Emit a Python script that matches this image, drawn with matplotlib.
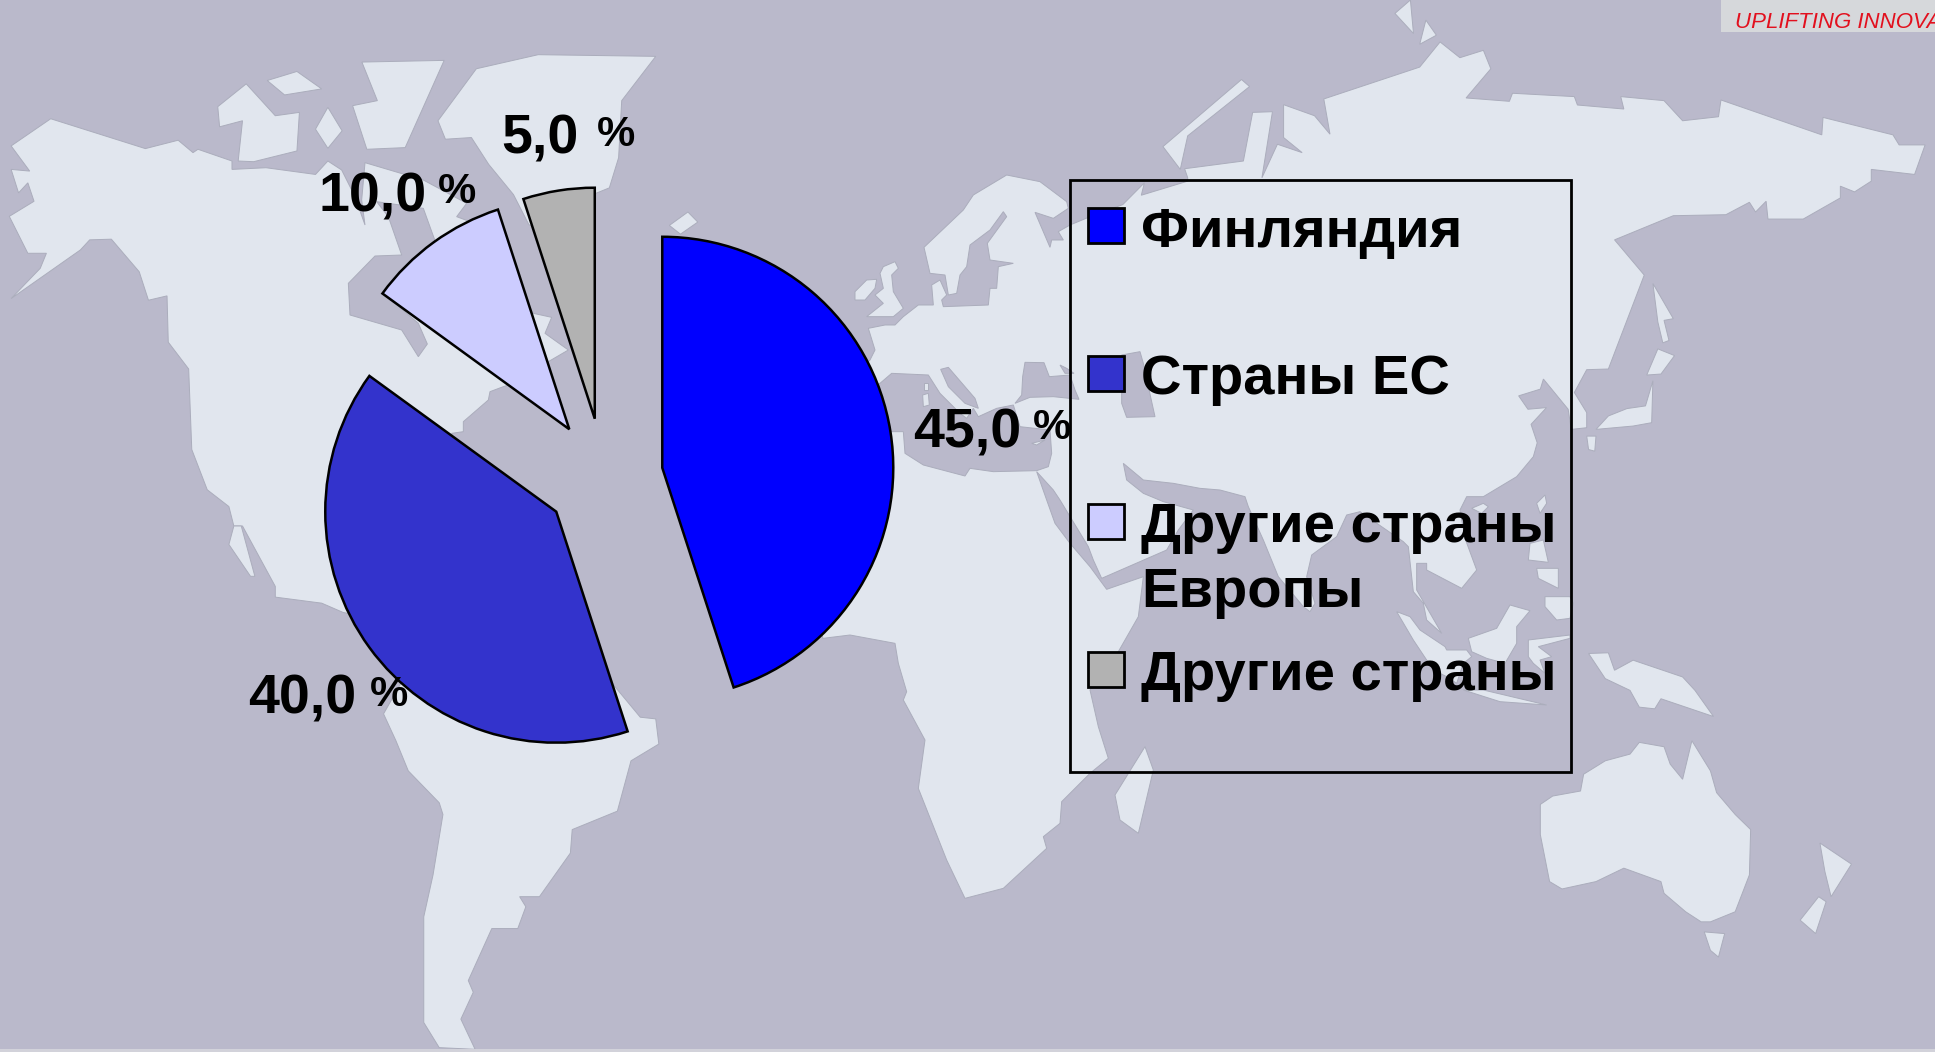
import matplotlib
matplotlib.use("Agg")
import matplotlib.pyplot as plt
from matplotlib.patches import Polygon, Rectangle

# --- chart data ---
categories = ["Финляндия", "Страны ЕС", "Другие страны\nЕвропы", "Другие страны"]
shares = [45.0, 40.0, 10.0, 5.0]
colors = ["#0000FF", "#3333CC", "#CCCCFF", "#B2B2B2"]
banner_text = "UPLIFTING INNOVATIONS"

SEA = "#BAB9CB"
LAND = "#E1E6EE"
COAST = "#ABADBC"


def t(col, row, pts):
    return [(965 * col + x / 1.6165, 526 * row + y / 2.981) for x, y in pts]


def c(ox, oy, pts):
    return [(ox + x / 3, oy + y / 3) for x, y in pts]


c9 = lambda pts: c(300, 120, pts)
c6 = lambda pts: c(850, 160, pts)
c7 = lambda pts: c(850, 500, pts)
c8 = lambda pts: c(1200, 400, pts)

americas = (
    t(0, 0, [(82, 354), (235, 443), (288, 418), (312, 455), (320, 445), (375, 480), (375, 505), (430, 500), (510, 520), (530, 480)])
    + c9([(125, 150), (165, 230), (195, 315), (185, 240), (195, 128), (370, 180), (500, 250), (470, 290), (510, 305), (600, 450),
          (700, 580), (755, 592), (735, 640), (805, 690), (745, 725), (700, 770), (610, 800), (570, 815), (565, 840), (490, 905), (490, 935), (455, 940)])
    + t(0, 1, [(850, 300), (990, 470), (1035, 570), (1060, 575), (1065, 650), (1020, 700), (998, 850), (925, 905), (922, 975), (872, 1105), (840, 1105),
               (850, 1135), (837, 1200), (795, 1200), (757, 1355), (765, 1390), (745, 1470), (768, 1560), (710, 1555), (685, 1480), (685, 1165),
               (700, 1040), (716, 860), (710, 825), (660, 730), (640, 640), (620, 560), (700, 300), (555, 258), (520, 230), (445, 212), (445, 180), (392, 0)])
    + t(0, 0, [(378, 1568), (370, 1510), (335, 1460), (310, 1340), (305, 1100), (272, 1020), (270, 882), (240, 895), (225, 810), (180, 713), (145, 715),
               (130, 745), (18, 890), (65, 800), (75, 755), (45, 755), (15, 645), (55, 600), (45, 545), (30, 575), (18, 505), (48, 510), (18, 435)])
)
baja = t(0, 1, [(378, 0), (390, 0), (412, 150), (405, 150), (370, 55)])
hudson = c9([(230, 245), (370, 265), (405, 362), (250, 520), (355, 610), (382, 672), (355, 710), (305, 630), (150, 585), (145, 490), (225, 408), (305, 405), (265, 290)])
greenland = t(0, 0, [(870, 163), (1060, 168), (1005, 300), (1000, 470), (985, 560), (945, 590), (905, 700), (855, 670), (830, 580), (790, 490), (762, 410), (720, 415), (708, 360), (770, 205)])
arctic = [
    t(0, 0, [(398, 250), (352, 318), (355, 378), (392, 360), (385, 480), (410, 482), (480, 450), (484, 335), (445, 345)]),
    t(0, 0, [(432, 240), (480, 213), (520, 265), (460, 283)]),
    t(0, 0, [(530, 320), (553, 390), (530, 442), (510, 385)]),
    t(0, 0, [(585, 185), (718, 180), (655, 440), (593, 445), (570, 315), (610, 300)]),
    t(0, 0, [(1112, 632), (1128, 662), (1100, 698), (1082, 672)]),
    t(1, 0, [(447, 237), (460, 258), (360, 405), (348, 505), (320, 437)]),
    t(1, 0, [(720, 0), (725, 100), (695, 40)]),
    t(1, 0, [(745, 60), (762, 105), (735, 132)]),
]
eurafrasia = (
    c6([(55, 505), (105, 495), (135, 495), (160, 470), (205, 435), (250, 435), (245, 375), (270, 360), (290, 405), (275, 420), (280, 440), (415, 435),
        (420, 385), (440, 385), (445, 320), (490, 310), (420, 300), (412, 250), (470, 170), (460, 155), (420, 210), (360, 255), (350, 320), (330, 345),
        (320, 400), (295, 405), (285, 345), (240, 340), (222, 262), (340, 150), (370, 105), (470, 45), (570, 65), (650, 125), (655, 145), (610, 175),
        (555, 157), (600, 262), (605, 240), (640, 240), (625, 215), (660, 195)])
    + t(1, 0, [(210, 640), (255, 610), (290, 545), (285, 582), (360, 540), (360, 530), (355, 503), (450, 480), (465, 335), (497, 333), (480, 530), (505, 430),
               (545, 455), (515, 410), (515, 312), (565, 345), (590, 400), (580, 295), (735, 200), (768, 125), (800, 172), (838, 150), (850, 205), (810, 292),
               (880, 302), (885, 278), (985, 288), (990, 313), (1065, 325), (1060, 288), (1130, 300), (1160, 360), (1218, 348), (1222, 298), (1385, 402),
               (1387, 350), (1500, 402), (1510, 432), (1552, 432), (1535, 520), (1465, 505), (1465, 540), (1438, 572), (1415, 555), (1415, 590), (1355, 653),
               (1298, 653), (1295, 600), (1278, 632), (1268, 603), (1230, 640), (1145, 643), (1050, 715), (1098, 820), (1040, 1100), (1005, 1102), (985, 1170),
               (1005, 1230), (1005, 1275), (980, 1280), (975, 1220), (935, 1130), (930, 1160), (895, 1180), (910, 1220), (940, 1215), (915, 1265), (925, 1320)])
    + c8([(1000, 170), (950, 230), (850, 290), (800, 290), (780, 330), (795, 415), (830, 510), (785, 565), (680, 510), (680, 490), (650, 490), (650, 570),
          (725, 700), (680, 660), (670, 610), (640, 575), (625, 440), (610, 425), (480, 335), (440, 345), (410, 410), (335, 465), (320, 530), (345, 610),
          (330, 635), (310, 620), (235, 530), (190, 420), (145, 320), (135, 290), (60, 270), (0, 265)])
    + c6([(970, 970), (880, 960), (820, 910), (830, 960), (880, 1000), (940, 1025), (1030, 1050), (985, 1110), (950, 1170), (755, 1255), (730, 1200), (715, 1160),
          (630, 1020), (610, 990), (560, 935), (590, 1020)])
    + c7([(615, 70), (660, 130), (720, 200), (770, 268), (880, 230), (865, 350), (805, 455), (720, 570), (745, 680), (775, 775), (720, 820), (635, 905), (630, 970),
          (580, 1010), (590, 1045), (460, 1165), (345, 1195), (290, 1080), (205, 865), (225, 720), (160, 600), (170, 575), (145, 490), (135, 430), (0, 405)])
    + t(0, 1, [(1330, 335)])
    + [(800, 450), (860, 370)]
    + c6([(60, 600), (75, 570)])
)
inner_seas = [
    c6([(90, 670), (125, 640), (235, 645), (270, 700), (330, 760), (350, 775), (370, 745), (385, 770), (440, 745), (490, 735), (510, 800), (600, 810), (605, 880),
        (595, 920), (560, 932), (430, 935), (360, 925), (345, 948), (220, 915), (165, 880), (160, 815), (60, 815), (30, 700)]),
    c6([(272, 628), (295, 622), (375, 715), (385, 745), (345, 730), (295, 680)]),
    c6([(525, 607), (582, 608), (598, 650), (660, 645), (675, 690), (687, 718), (610, 710), (540, 712), (495, 730), (515, 705), (518, 650)]),
    c6([(630, 615), (650, 625), (672, 640), (645, 640)]),
    c6([(815, 585), (870, 575), (880, 610), (895, 680), (915, 770), (830, 772), (815, 730)]),
]
islands = [
    c6([(100, 320), (135, 305), (145, 325), (125, 345), (130, 395), (160, 445), (130, 470), (50, 470), (100, 430), (75, 405), (100, 385), (90, 340)]),
    c6([(15, 395), (50, 360), (80, 358), (75, 385), (45, 420), (15, 420)]),
    c6([(222, 670), (235, 670), (235, 690), (222, 690)]),
    c6([(218, 705), (235, 700), (238, 735), (220, 740)]),
    c6([(545, 850), (585, 840), (560, 855)]),
    c7([(885, 740), (910, 810), (865, 1000), (810, 960), (795, 885)]),
    t(1, 0, [(1112, 845), (1145, 950), (1130, 955), (1138, 1015), (1128, 1022), (1120, 960)]),
    t(1, 0, [(1120, 1040), (1147, 1060), (1125, 1115), (1102, 1118)]),
    t(1, 0, [(1112, 1135), (1110, 1260), (1080, 1270), (1020, 1280), (1040, 1240), (1070, 1218), (1100, 1210)]),
    t(1, 0, [(1005, 1300), (1020, 1300), (1018, 1345), (1008, 1340)]),
    c8([(1035, 285), (1040, 310), (1020, 340), (1010, 310)]),
    c8([(815, 325), (850, 310), (865, 320), (845, 340)]),
    c8([(990, 430), (1030, 420), (1045, 487), (985, 480)]),
    c8([(1010, 505), (1075, 505), (1075, 565), (1015, 535)]),
    c8([(1035, 590), (1110, 590), (1120, 610), (1110, 655), (1070, 660), (1035, 620)]),
    c8([(590, 635), (630, 650), (660, 690), (735, 740), (740, 750), (800, 750), (815, 770), (790, 790), (770, 850), (740, 830), (700, 810), (640, 720)]),
    c8([(930, 615), (990, 632), (950, 680), (950, 730), (915, 790), (860, 775), (815, 755), (805, 715), (890, 685)]),
    c8([(985, 720), (1110, 705), (1110, 715), (1015, 740), (1055, 770), (1020, 780), (1035, 820), (1000, 790), (985, 770)]),
    c8([(790, 870), (850, 870), (1040, 915), (900, 905)]),
    t(1, 1, [(1008, 380), (1040, 378), (1050, 430), (1080, 400), (1160, 450), (1180, 490), (1210, 568), (1125, 515), (1115, 545), (1090, 540), (1075, 490), (1035, 455)]),
    t(1, 1, [(1090, 645), (1130, 658), (1140, 710), (1160, 755), (1175, 640), (1205, 730), (1215, 795), (1245, 860), (1270, 905), (1268, 1040), (1245, 1150), (1205, 1180),
             (1190, 1180), (1165, 1150), (1130, 1095), (1125, 1060), (1065, 1020), (1020, 1060), (965, 1082), (945, 1060), (930, 920), (930, 830), (950, 805), (995, 790),
             (1000, 740), (1035, 700), (1075, 680)]),
    t(1, 1, [(1195, 1210), (1228, 1215), (1218, 1285), (1205, 1265)]),
    t(1, 1, [(1382, 945), (1433, 1008), (1400, 1105), (1390, 1030)]),
    t(1, 1, [(1380, 1105), (1392, 1120), (1375, 1215), (1350, 1175)]),
]

plt.rcParams["font.family"] = ["Liberation Sans", "DejaVu Sans"]

fig = plt.figure(figsize=(19.35, 10.52), dpi=100, facecolor=SEA)
ax = fig.add_axes([0, 0, 1, 1])
ax.set_facecolor(SEA)


def draw_area(pts, fill, z=1):
    ax.add_patch(Polygon(pts, closed=True, facecolor=fill, edgecolor=COAST, linewidth=0.7, zorder=z))


for land in [americas, baja, greenland, eurafrasia] + arctic:
    draw_area(land, LAND, 1)
draw_area(hudson, SEA, 2)
for sea in inner_seas:
    draw_area(sea, SEA, 2)
for island in islands:
    draw_area(island, LAND, 3)

# y axis runs downward, so the pie starts at -90 and goes counterclock to look clockwise
wedges, _ = ax.pie(shares, colors=colors, startangle=-90, counterclock=True, radius=231, center=(604, 477),
                   explode=[59] * len(shares), frame=True,
                   wedgeprops={"edgecolor": "black", "linewidth": 1.8})
for w in wedges:
    w.set_zorder(5)

ax.set_xlim(0, 1935)
ax.set_ylim(1052, 0)
ax.set_aspect("auto")
ax.axis("off")

# value labels, the % sign is smaller and sits against the top of the digits
label_x = [913, 248, 318, 501]
label_y = [447, 714, 211, 154]
pct_x = [1033, 370, 438, 597]
for v, x, y, px in zip(shares, label_x, label_y, pct_x):
    ax.text(x, y, f"{v:.1f}".replace(".", ","), fontsize=40, fontweight="bold", color="black", va="baseline", ha="left", zorder=7)
    ax.text(px, y - 8, "%", fontsize=31, fontweight="bold", color="black", va="baseline", ha="left", zorder=7)

# legend box
ax.add_patch(Rectangle((1070, 180), 501, 592, facecolor="none", edgecolor="black", linewidth=2, zorder=6))
swatch_y = [208, 356, 504, 652]
text_y = [247, 394, 542, 690]
for name, col, sy, ty in zip(categories, colors, swatch_y, text_y):
    ax.add_patch(Rectangle((1088, sy), 36, 35, facecolor=col, edgecolor="black", linewidth=2, zorder=6))
    parts = name.split("\n")
    ax.text(1141, ty, parts[0], fontsize=40.4, fontweight="bold", va="baseline", ha="left", zorder=7)
    if len(parts) > 1:
        ax.text(1141, 607, parts[1], fontsize=40.4, fontweight="bold", va="baseline", ha="left", zorder=7)

# banner in the corner, cut by the page edge
ax.add_patch(Rectangle((1721, 0), 214, 32, facecolor="#D6D8DB", edgecolor="none", zorder=6))
ax.text(1735, 28, banner_text, fontsize=16, style="italic", color="#E2101E", va="baseline", ha="left", zorder=7)

ax.add_patch(Rectangle((0, 1049), 1935, 3, facecolor="#D2D2DA", edgecolor="none", zorder=6))

fig.savefig("out.png", dpi=100, facecolor=SEA)
